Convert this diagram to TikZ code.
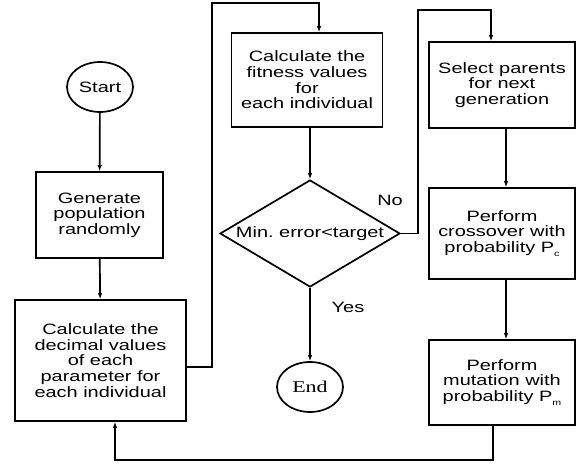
\documentclass[tikz,border=0pt]{standalone}
\usepackage{fontspec}
\setmainfont{Liberation Sans}[FakeStretch=1.33]
\newfontfamily\endfont{Liberation Serif}[FakeStretch=1.33]
\usetikzlibrary{shapes.geometric,arrows.meta}

\begin{document}
\begin{tikzpicture}[x=1pt,y=-1pt,font=\fontsize{15}{15.6}\selectfont]
	\tikzset{every box/.style={draw,line width=1.7pt,align=center,inner sep=0pt},
		stepbox/.style={every box,rectangle,minimum width=146pt},
		termbox/.style={every box,ellipse,minimum width=66pt,minimum height=50pt},
		line/.style={line width=1.7pt},
		arrow/.style={line,-{Latex[length=6pt,width=4.5pt]}}}
	\useasboundingbox (0,0) rectangle (576,465);
	% left column
	\node[termbox] (start) at (100,87) {Start};
	\node[stepbox,minimum width=127pt,minimum height=86pt] (gen) at (99.5,215) {Generate\\population\\randomly};
	\node[stepbox,minimum width=171pt,minimum height=121pt] (dec) at (100.5,360.5) {Calculate the\\decimal values\\of each\\parameter for\\each individual};
	% middle column
	\node[stepbox,minimum width=151pt,minimum height=94pt] (fit) at (307,80) {Calculate the\\fitness values\\for\\each individual};
	\node[every box,diamond,minimum width=180pt,minimum height=107pt,label=center:{Min.\ error<target}] (cond) at (310,233.5) {};
	\node[termbox,font=\fontsize{16.5}{17}\endfont] (end) at (310,387) {End};
	% right column
	\node[stepbox,minimum height=86pt] (sel) at (502,85) {Select parents\\for next\\generation};
	\node[stepbox,minimum height=91pt] (cro) at (502,233.5) {Perform\\crossover with\\probability P\raisebox{-.5ex}{\fontsize{8}{8}\selectfont c}};
	\node[stepbox,minimum height=85pt] (mut) at (502,382.5) {Perform\\mutation with\\probability P\raisebox{-.5ex}{\fontsize{8}{8}\selectfont m}};
	% labels
	\node (no) at (390,200) {No};
	\node (yes) at (348,307) {Yes};
	% bends
	\coordinate (b1) at (212,367);
	\coordinate (b2) at (212,3);
	\coordinate (b3) at (319,3);
	\coordinate (b4) at (418,233.5);
	\coordinate (b5) at (418,10);
	\coordinate (b6) at (491,10);
	\coordinate (b7) at (493,460);
	\coordinate (b8) at (115,460);
	% connectors
	\draw[arrow] (start) -- (gen);
	\draw[arrow] (gen) -- (dec);
	\draw[arrow] (dec.east |- b1) -- (b1) -- (b2) -- (b3) -- (b3 |- fit.north);
	\draw[arrow] (fit.south -| cond.north) -- (cond.north);
	\draw[arrow] (cond.south) -- (end);
	\draw[arrow] (cond.east) -- (b4) -- (b5) -- (b6) -- (b6 |- sel.north);
	\draw[arrow] (sel.south -| 506,0) -- (cro.north -| 506,0);
	\draw[arrow] (cro.south -| 506,0) -- (mut.north -| 506,0);
	\draw[arrow] (mut.south -| b7) -- (b7) -- (b8) -- (b8 |- dec.south);
\end{tikzpicture}
\end{document}
